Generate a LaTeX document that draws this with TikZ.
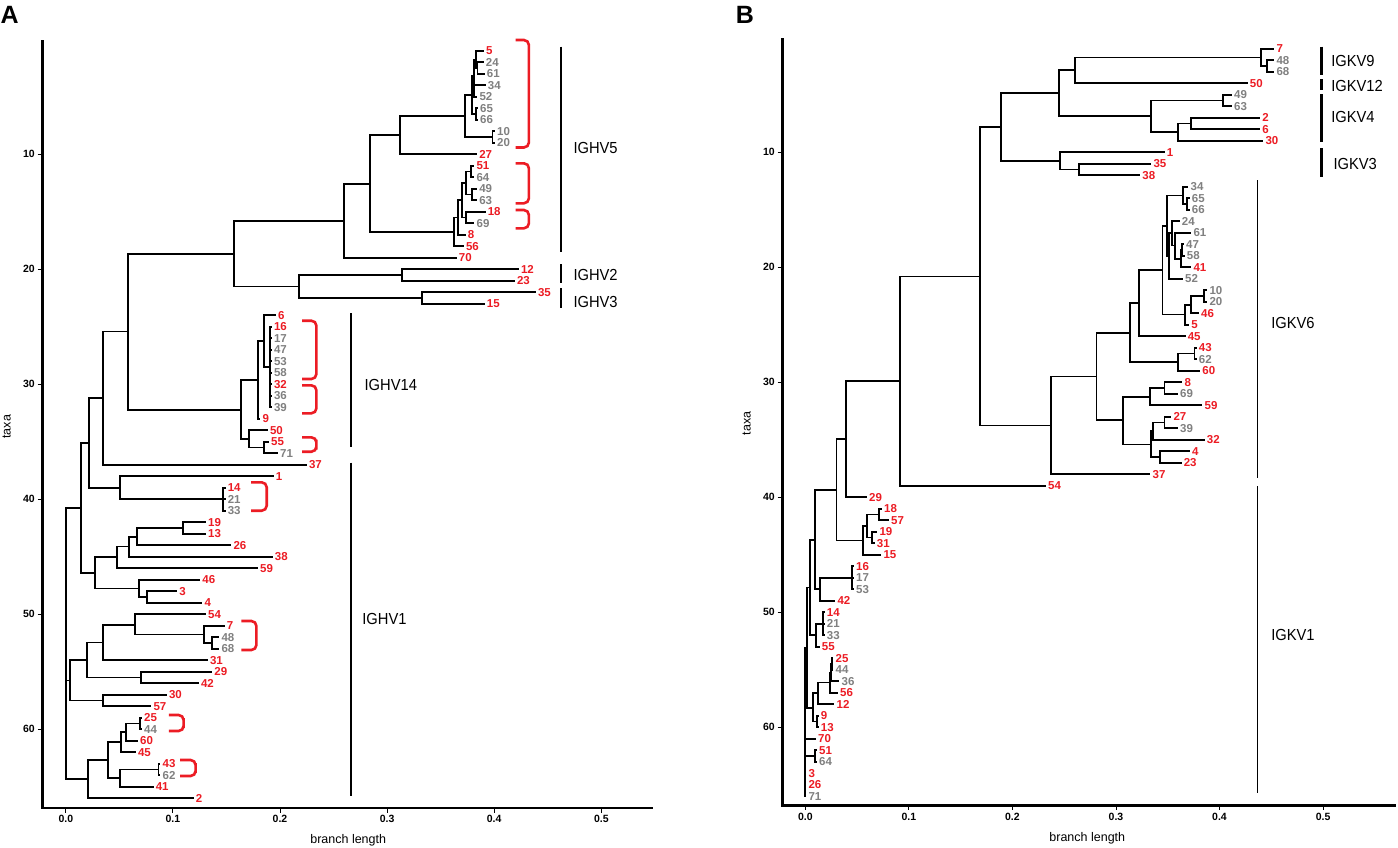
\documentclass[tikz,border=0pt]{standalone}
\usepackage{fontspec}
\setmainfont{Liberation Sans}
\newfontfamily\clfont[FakeStretch=0.92]{Liberation Sans}
\definecolor{lred}{RGB}{236,28,36}
\definecolor{lgray}{RGB}{128,128,128}
\newcommand\lf[5]{\coordinate (#1) at (#2,#3); \node[#4] (#1t) at ([xshift=3pt]#1) {#5};}
\newcommand\tn[3]{\coordinate (#1) at (#2,#3);}
\newcommand\kids[2]{\foreach \kd in {#2}{\draw[br] (#1) |- (\kd);}}
\begin{document}
\begin{tikzpicture}[x=1pt,y=-1pt,
  br/.style={line width=1.8pt, line cap=rect},
  lab/.style={anchor=west, inner sep=0pt, font=\bfseries\fontsize{11.5}{12}\selectfont},
  rl/.style={lab, text=lred},
  gl/.style={lab, text=lgray},
  axisline/.style={line width=2.6pt},
  tickmark/.style={line width=1pt},
  ticklab/.style={font=\bfseries\fontsize{10.5}{12}\selectfont, inner sep=0pt},
  clbar/.style={line width=2.6pt},
  thinbar/.style={line width=1.2pt},
  cllab/.style={anchor=west, inner sep=0pt, font=\clfont\fontsize{16}{18}\selectfont},
  brk/.style={draw=lred, line width=2.6pt, rounded corners=5pt},
  ttl/.style={font=\fontsize{12.5}{14}\selectfont, inner sep=0pt},
  panel/.style={font=\bfseries\fontsize{25}{28}\selectfont, inner sep=0pt, anchor=north west}]
\useasboundingbox (0,0) rectangle (1398,847);
\fill[white] (0,0) rectangle (1398,847);

% ---------------- Panel A ----------------
\node[panel] (pA) at (0.5,6.5) {A};
\coordinate (axA0) at (42.2,40);
\coordinate (axA1) at (42.2,808);
\coordinate (axA2) at (653.3,808);
\draw[axisline] (axA0) -- (axA1) -- (axA2);
\foreach \t/\yy in {10/154.3,20/269.3,30/384.3,40/499.3,50/614.3,60/729.3}{
  \draw[tickmark] (37.5,\yy) -- (42.2,\yy);
  \node[ticklab, anchor=east] at (35,\yy) {\t};
}
\foreach \t/\xx in {0.0/65.8,0.1/172.9,0.2/280,0.3/387.1,0.4/494.2,0.5/601.3}{
  \draw[tickmark] (\xx,808) -- (\xx,812.5);
  \node[ticklab] at (\xx,818.5) {\t};
}
\node[ttl, anchor=base] (xlA) at (348.2,843) {branch length};
\node[ttl, rotate=90] (ylA) at (6.7,426.7) {taxa};

\begin{scope}[y=-11.5pt, yshift=-39.3pt]
\lf{a1}{483}{1}{rl}{5}
\lf{a2}{482.7}{2}{gl}{24}
\lf{a3}{483.7}{3}{gl}{61}
\lf{a4}{484.7}{4}{gl}{34}
\lf{a5}{476.3}{5}{gl}{52}
\lf{a6}{477}{6}{gl}{65}
\lf{a7}{477}{7}{gl}{66}
\lf{a8}{494}{8}{gl}{10}
\lf{a9}{494}{9}{gl}{20}
\lf{a10}{476.1}{10}{rl}{27}
\lf{a11}{473.4}{11}{rl}{51}
\lf{a12}{473.4}{12}{gl}{64}
\lf{a13}{476.1}{13}{gl}{49}
\lf{a14}{476.1}{14}{gl}{63}
\lf{a15}{484.6}{15}{rl}{18}
\lf{a16}{473.5}{16}{gl}{69}
\lf{a17}{464.6}{17}{rl}{8}
\lf{a18}{462.8}{18}{rl}{56}
\lf{a19}{455.7}{19}{rl}{70}
\lf{a20}{517.9}{20}{rl}{12}
\lf{a21}{513.9}{21}{rl}{23}
\lf{a22}{534.8}{22}{rl}{35}
\lf{a23}{483.7}{23}{rl}{15}
\lf{a24}{274.8}{24}{rl}{6}
\lf{a25}{270.8}{25}{rl}{16}
\lf{a26}{270.8}{26}{gl}{17}
\lf{a27}{270.8}{27}{gl}{47}
\lf{a28}{270.8}{28}{gl}{53}
\lf{a29}{270.8}{29}{gl}{58}
\lf{a30}{270.8}{30}{rl}{32}
\lf{a31}{270.8}{31}{gl}{36}
\lf{a32}{270.8}{32}{gl}{39}
\lf{a33}{259.5}{33}{rl}{9}
\lf{a34}{266.8}{34}{rl}{50}
\lf{a35}{268}{35}{rl}{55}
\lf{a36}{277}{36}{gl}{71}
\lf{a37}{305.9}{37}{rl}{37}
\lf{a38}{272.6}{38}{rl}{1}
\lf{a39}{224.6}{39}{rl}{14}
\lf{a40}{224.6}{40}{gl}{21}
\lf{a41}{224.6}{41}{gl}{33}
\lf{a42}{205}{42}{rl}{19}
\lf{a43}{205}{43}{rl}{13}
\lf{a44}{230.3}{44}{rl}{26}
\lf{a45}{271.7}{45}{rl}{38}
\lf{a46}{257}{46}{rl}{59}
\lf{a47}{199.2}{47}{rl}{46}
\lf{a48}{176.1}{48}{rl}{3}
\lf{a49}{201.4}{49}{rl}{4}
\lf{a50}{205}{50}{rl}{54}
\lf{a51}{223.7}{51}{rl}{7}
\lf{a52}{218.3}{52}{gl}{48}
\lf{a53}{218.3}{53}{gl}{68}
\lf{a54}{206.8}{54}{rl}{31}
\lf{a55}{211.2}{55}{rl}{29}
\lf{a56}{197.9}{56}{rl}{42}
\lf{a57}{165.9}{57}{rl}{30}
\lf{a58}{150.3}{58}{rl}{57}
\lf{a59}{141}{59}{rl}{25}
\lf{a60}{141}{60}{gl}{44}
\lf{a61}{137}{61}{rl}{60}
\lf{a62}{134.8}{62}{rl}{45}
\lf{a63}{159.5}{63}{rl}{43}
\lf{a64}{159.5}{64}{gl}{62}
\lf{a65}{152.6}{65}{rl}{41}
\lf{a66}{192.6}{66}{rl}{2}
\tn{ab23}{477.5}{2.5}
\tn{ab13}{476}{1.75}
\tn{ab15}{474}{3.2}
\tn{ab67}{476}{6.5}
\tn{ab17}{471.7}{4.85}
\tn{ab89}{492.5}{8.5}
\tn{ab19}{465}{6.7}
\tn{ab110}{399.6}{8.35}
\tn{ab1112}{471.1}{11.5}
\tn{ab1314}{472}{13.5}
\tn{ab1114}{465.8}{12.5}
\tn{ab1516}{465.8}{15.5}
\tn{ab1116}{462.2}{14}
\tn{ab1117}{457.8}{15.5}
\tn{ab1118}{454.2}{16.75}
\tn{ab118}{370.2}{12.55}
\tn{ab119}{343.6}{15.8}
\tn{ab2021}{401.8}{20.5}
\tn{ab2223}{422.2}{22.5}
\tn{ab2023}{299.1}{21.5}
\tn{ab123}{234.2}{18.65}
\tn{ab2532}{269.8}{28.5}
\tn{ab2432}{263.6}{26.25}
\tn{ab2433}{258}{29.6}
\tn{ab3536}{263.6}{35.5}
\tn{ab3436}{248.9}{34.75}
\tn{ab2436}{241.3}{32.2}
\tn{ab136}{127.6}{25.4}
\tn{ab137}{103.1}{31.2}
\tn{ab3941}{223.1}{40}
\tn{ab3841}{120}{39}
\tn{ab141}{88.9}{35.1}
\tn{ab4243}{182.7}{42.5}
\tn{ab4244}{136.9}{43.25}
\tn{ab4245}{128.9}{44.1}
\tn{ab4246}{116.9}{45.05}
\tn{ab4849}{146.7}{48.5}
\tn{ab4749}{139.1}{47.75}
\tn{ab4249}{94.7}{46.4}
\tn{ab149}{81.3}{40.75}
\tn{ab5253}{211.6}{52.5}
\tn{ab5153}{203.6}{51.75}
\tn{ab5053}{134.7}{50.9}
\tn{ab5054}{103.1}{52.45}
\tn{ab5556}{140.9}{55.5}
\tn{ab5056}{86.7}{54}
\tn{ab5758}{103.1}{57.5}
\tn{ab5058}{70.2}{55.75}
\tn{ab5960}{140}{59.5}
\tn{ab5961}{125.8}{60.25}
\tn{ab5962}{121.3}{61.1}
\tn{ab6364}{158.5}{63.5}
\tn{ab6365}{120}{64.25}
\tn{ab5965}{108}{62.7}
\tn{ab5966}{88}{64.35}
\tn{aroot}{65.8}{52.5}
\kids{ab23}{a2,a3}
\kids{ab13}{a1,ab23}
\kids{ab15}{ab13,a4,a5}
\kids{ab67}{a6,a7}
\kids{ab17}{ab15,ab67}
\kids{ab89}{a8,a9}
\kids{ab19}{ab17,ab89}
\kids{ab110}{ab19,a10}
\kids{ab1112}{a11,a12}
\kids{ab1314}{a13,a14}
\kids{ab1114}{ab1112,ab1314}
\kids{ab1516}{a15,a16}
\kids{ab1116}{ab1114,ab1516}
\kids{ab1117}{ab1116,a17}
\kids{ab1118}{ab1117,a18}
\kids{ab118}{ab110,ab1118}
\kids{ab119}{ab118,a19}
\kids{ab2021}{a20,a21}
\kids{ab2223}{a22,a23}
\kids{ab2023}{ab2021,ab2223}
\kids{ab123}{ab119,ab2023}
\kids{ab2532}{a25,a26,a27,a28,a29,a30,a31,a32}
\kids{ab2432}{a24,ab2532}
\kids{ab2433}{ab2432,a33}
\kids{ab3536}{a35,a36}
\kids{ab3436}{a34,ab3536}
\kids{ab2436}{ab2433,ab3436}
\kids{ab136}{ab123,ab2436}
\kids{ab137}{ab136,a37}
\kids{ab3941}{a39,a40,a41}
\kids{ab3841}{a38,ab3941}
\kids{ab141}{ab137,ab3841}
\kids{ab4243}{a42,a43}
\kids{ab4244}{ab4243,a44}
\kids{ab4245}{ab4244,a45}
\kids{ab4246}{ab4245,a46}
\kids{ab4849}{a48,a49}
\kids{ab4749}{a47,ab4849}
\kids{ab4249}{ab4246,ab4749}
\kids{ab149}{ab141,ab4249}
\kids{ab5253}{a52,a53}
\kids{ab5153}{a51,ab5253}
\kids{ab5053}{a50,ab5153}
\kids{ab5054}{ab5053,a54}
\kids{ab5556}{a55,a56}
\kids{ab5056}{ab5054,ab5556}
\kids{ab5758}{a57,a58}
\kids{ab5058}{ab5056,ab5758}
\kids{ab5960}{a59,a60}
\kids{ab5961}{ab5960,a61}
\kids{ab5962}{ab5961,a62}
\kids{ab6364}{a63,a64}
\kids{ab6365}{ab6364,a65}
\kids{ab5965}{ab5962,ab6365}
\kids{ab5966}{ab5965,a66}
\kids{aroot}{ab149,ab5058,ab5966}
\end{scope}

% brackets A
\foreach \xl/\xr/\yt/\yb in {515.6/528.9/40/147.5, 515.6/528.9/163.3/203.3, 515.6/528.9/210/228.3,
  302.2/316.4/320.7/379, 302.2/316.4/385.3/413.3, 302.2/316.4/437.3/451.7,
  251.1/266.7/482.3/510.7, 241.3/256.4/621/650, 168.9/183.6/715/731, 180/195.6/760/776}{
  \draw[brk] (\xl,\yt) -| (\xr,{(\yt+\yb)/2}) |- (\xl,\yb);
}
% clade bars A
\draw[clbar] (560.9,46.7) -- (560.9,252.3);
\node[cllab] (cA5) at (573.3,147.7) {IGHV5};
\draw[clbar] (560.9,264.3) -- (560.9,283.3);
\node[cllab] (cA2) at (573.3,275) {IGHV2};
\draw[clbar] (560.9,288.3) -- (560.9,308.3);
\node[cllab] (cA3) at (573.3,302.3) {IGHV3};
\draw[clbar] (351.1,313.3) -- (351.1,446.7);
\node[cllab] (cA14) at (364.4,385) {IGHV14};
\draw[clbar] (351.1,462.7) -- (351.1,795.7);
\node[cllab] (cA1) at (362.2,619.3) {IGHV1};

% ---------------- Panel B ----------------
\node[panel] (pB) at (735.6,6) {B};
\coordinate (axB0) at (782.2,38.3);
\coordinate (axB1) at (782.2,805.7);
\coordinate (axB2) at (1395.6,805.7);
\draw[axisline] (axB0) -- (axB1) -- (axB2);
\foreach \t/\yy in {10/152.3,20/267.3,30/382.3,40/497.3,50/612.3,60/727.3}{
  \draw[tickmark] (777.5,\yy) -- (782.2,\yy);
  \node[ticklab, anchor=east] at (775,\yy) {\t};
}
\foreach \t/\xx in {0.0/805.3,0.1/908.9,0.2/1012.4,0.3/1116,0.4/1219.5,0.5/1323.1}{
  \draw[tickmark] (\xx,805.7) -- (\xx,810.2);
  \node[ticklab] at (\xx,816.7) {\t};
}
\node[ttl, anchor=base] (xlB) at (1087.3,841.5) {branch length};
\node[ttl, rotate=90] (ylB) at (746.7,423.3) {taxa};

\begin{scope}[y=-11.5pt, yshift=-37.3pt]
\lf{b1}{1273.3}{1}{rl}{7}
\lf{b2}{1273.3}{2}{gl}{48}
\lf{b3}{1273.3}{3}{gl}{68}
\lf{b4}{1246.7}{4}{rl}{50}
\lf{b5}{1231}{5}{gl}{49}
\lf{b6}{1231}{6}{gl}{63}
\lf{b7}{1259.2}{7}{rl}{2}
\lf{b8}{1259.1}{8}{rl}{6}
\lf{b9}{1262.3}{9}{rl}{30}
\lf{b10}{1163.7}{10}{rl}{1}
\lf{b11}{1150.3}{11}{rl}{35}
\lf{b12}{1139.2}{12}{rl}{38}
\lf{b13}{1187.5}{13}{gl}{34}
\lf{b14}{1188.7}{14}{gl}{65}
\lf{b15}{1188.7}{15}{gl}{66}
\lf{b16}{1178.7}{16}{gl}{24}
\lf{b17}{1190.3}{17}{gl}{61}
\lf{b18}{1183}{18}{gl}{47}
\lf{b19}{1183.7}{19}{gl}{58}
\lf{b20}{1190.3}{20}{rl}{41}
\lf{b21}{1182}{21}{gl}{52}
\lf{b22}{1206.3}{22}{gl}{10}
\lf{b23}{1206.3}{23}{gl}{20}
\lf{b24}{1198}{24}{rl}{46}
\lf{b25}{1188.1}{25}{rl}{5}
\lf{b26}{1184.6}{26}{rl}{45}
\lf{b27}{1195.7}{27}{rl}{43}
\lf{b28}{1195.7}{28}{gl}{62}
\lf{b29}{1199.2}{29}{rl}{60}
\lf{b30}{1181.4}{30}{rl}{8}
\lf{b31}{1177}{31}{gl}{69}
\lf{b32}{1201.4}{32}{rl}{59}
\lf{b33}{1170.3}{33}{rl}{27}
\lf{b34}{1177}{34}{gl}{39}
\lf{b35}{1203.7}{35}{rl}{32}
\lf{b36}{1189}{36}{rl}{4}
\lf{b37}{1180.6}{37}{rl}{23}
\lf{b38}{1149.4}{38}{rl}{37}
\lf{b39}{1045}{39}{rl}{54}
\lf{b40}{866}{40}{rl}{29}
\lf{b41}{881}{41}{rl}{18}
\lf{b42}{888}{42}{rl}{57}
\lf{b43}{876.3}{43}{rl}{19}
\lf{b44}{873.7}{44}{rl}{31}
\lf{b45}{880.3}{45}{rl}{15}
\lf{b46}{853}{46}{rl}{16}
\lf{b47}{853}{47}{gl}{17}
\lf{b48}{853}{48}{gl}{53}
\lf{b49}{834.3}{49}{rl}{42}
\lf{b50}{823.7}{50}{rl}{14}
\lf{b51}{823.7}{51}{gl}{21}
\lf{b52}{823.7}{52}{gl}{33}
\lf{b53}{818.7}{53}{rl}{55}
\lf{b54}{832.5}{54}{rl}{25}
\lf{b55}{832.5}{55}{gl}{44}
\lf{b56}{838.5}{56}{gl}{36}
\lf{b57}{837}{57}{rl}{56}
\lf{b58}{833.5}{58}{rl}{12}
\lf{b59}{817.7}{59}{rl}{9}
\lf{b60}{817.7}{60}{rl}{13}
\lf{b61}{815}{61}{rl}{70}
\lf{b62}{816}{62}{rl}{51}
\lf{b63}{816}{63}{gl}{64}
\lf{b64}{805.3}{64}{rl}{3}
\lf{b65}{805.3}{65}{rl}{26}
\lf{b66}{805.3}{66}{gl}{71}
\tn{bb23}{1266.7}{2.5}
\tn{bb13}{1261.3}{1.75}
\tn{bb14}{1074.7}{2.875}
\tn{bb56}{1223}{5.5}
\tn{bb78}{1191.1}{7.5}
\tn{bb79}{1177.8}{8.25}
\tn{bb59}{1151.1}{6.875}
\tn{bb19}{1059.1}{4.875}
\tn{bb1112}{1079.1}{11.5}
\tn{bb1012}{1060}{10.75}
\tn{bb112}{1000.9}{7.8}
\tn{bb1415}{1186.7}{14.5}
\tn{bb1315}{1182.7}{13.75}
\tn{bb1819}{1182.3}{18.5}
\tn{bb1820}{1181}{19.25}
\tn{bb1720}{1175}{18.1}
\tn{bb1620}{1171.7}{17.05}
\tn{bb1621}{1169.3}{19}
\tn{bb1321}{1166.7}{16.4}
\tn{bb2223}{1203.6}{22.5}
\tn{bb2224}{1191.1}{23.25}
\tn{bb2225}{1185.3}{24.1}
\tn{bb1325}{1162.5}{20.25}
\tn{bb1326}{1139.1}{23.1}
\tn{bb2728}{1194.5}{27.5}
\tn{bb2729}{1177.8}{28.25}
\tn{bb1329}{1130.2}{25.7}
\tn{bb3031}{1164.4}{30.5}
\tn{bb3032}{1149.8}{31.25}
\tn{bb3334}{1164.4}{33.5}
\tn{bb3335}{1153.3}{34.25}
\tn{bb3637}{1160}{36.5}
\tn{bb3337}{1151.1}{35.4}
\tn{bb3037}{1123.1}{33.3}
\tn{bb1337}{1096.4}{29.5}
\tn{bb1338}{1051.1}{33.75}
\tn{bb138}{980}{20.8}
\tn{bb139}{900}{29.9}
\tn{bb140}{845.7}{34.95}
\tn{bb4142}{879.3}{41.5}
\tn{bb4344}{871.7}{43.5}
\tn{bb4144}{867.3}{42.5}
\tn{bb4145}{862.7}{43.75}
\tn{bb145}{836.5}{39.35}
\tn{bb4648}{851.7}{47}
\tn{bb4649}{820}{48}
\tn{bb5052}{823.3}{51}
\tn{bb5053}{815.7}{52}
\tn{bbr1}{814.7}{43.7}
\tn{bbr2}{810.2}{47.85}
\tn{bb5455}{832}{54.5}
\tn{bb5456}{831}{55.25}
\tn{bb5457}{830}{56.1}
\tn{bb5458}{818.3}{57.05}
\tn{bb5960}{816.7}{59.5}
\tn{bb5460}{813.3}{58.3}
\tn{bbr4}{806.7}{53.1}
\tn{bb6263}{815}{62.5}
\tn{broot}{805.3}{60}
\kids{bb23}{b2,b3}
\kids{bb13}{b1,bb23}
\kids{bb14}{bb13,b4}
\kids{bb56}{b5,b6}
\kids{bb78}{b7,b8}
\kids{bb79}{bb78,b9}
\kids{bb59}{bb56,bb79}
\kids{bb19}{bb14,bb59}
\kids{bb1112}{b11,b12}
\kids{bb1012}{b10,bb1112}
\kids{bb112}{bb19,bb1012}
\kids{bb1415}{b14,b15}
\kids{bb1315}{b13,bb1415}
\kids{bb1819}{b18,b19}
\kids{bb1820}{bb1819,b20}
\kids{bb1720}{b17,bb1820}
\kids{bb1620}{b16,bb1720}
\kids{bb1621}{bb1620,b21}
\kids{bb1321}{bb1315,bb1621}
\kids{bb2223}{b22,b23}
\kids{bb2224}{bb2223,b24}
\kids{bb2225}{bb2224,b25}
\kids{bb1325}{bb1321,bb2225}
\kids{bb1326}{bb1325,b26}
\kids{bb2728}{b27,b28}
\kids{bb2729}{bb2728,b29}
\kids{bb1329}{bb1326,bb2729}
\kids{bb3031}{b30,b31}
\kids{bb3032}{bb3031,b32}
\kids{bb3334}{b33,b34}
\kids{bb3335}{bb3334,b35}
\kids{bb3637}{b36,b37}
\kids{bb3337}{bb3335,bb3637}
\kids{bb3037}{bb3032,bb3337}
\kids{bb1337}{bb1329,bb3037}
\kids{bb1338}{bb1337,b38}
\kids{bb138}{bb112,bb1338}
\kids{bb139}{bb138,b39}
\kids{bb140}{bb139,b40}
\kids{bb4142}{b41,b42}
\kids{bb4344}{b43,b44}
\kids{bb4144}{bb4142,bb4344}
\kids{bb4145}{bb4144,b45}
\kids{bb145}{bb140,bb4145}
\kids{bb4648}{b46,b47,b48}
\kids{bb4649}{bb4648,b49}
\kids{bb5052}{b50,b51,b52}
\kids{bb5053}{bb5052,b53}
\kids{bbr1}{bb145,bb4649}
\kids{bbr2}{bbr1,bb5053}
\kids{bb5455}{b54,b55}
\kids{bb5456}{bb5455,b56}
\kids{bb5457}{bb5456,b57}
\kids{bb5458}{bb5457,b58}
\kids{bb5960}{b59,b60}
\kids{bb5460}{bb5458,bb5960}
\kids{bbr4}{bbr2,bb5460}
\kids{bb6263}{b62,b63}
\kids{broot}{bbr4,b61,bb6263,b64,b65,b66}
\end{scope}

% clade bars B
\draw[clbar] (1321.5,46.7) -- (1321.5,75);
\node[cllab] (cB9) at (1331.1,60.7) {IGKV9};
\draw[clbar] (1321.5,79.3) -- (1321.5,90);
\node[cllab] (cB12) at (1331.1,86) {IGKV12};
\draw[clbar] (1321.5,94.3) -- (1321.5,141.7);
\node[cllab] (cB4) at (1331.1,116.7) {IGKV4};
\draw[clbar] (1321.5,148.3) -- (1321.5,177.3);
\node[cllab] (cB3) at (1333.3,164.3) {IGKV3};
\draw[thinbar] (1257.8,180) -- (1257.8,478);
\node[cllab] (cB6) at (1271.1,323.3) {IGKV6};
\draw[thinbar] (1257.8,486) -- (1257.8,793.3);
\node[cllab] (cB1) at (1271.1,635) {IGKV1};
\end{tikzpicture}
\end{document}
